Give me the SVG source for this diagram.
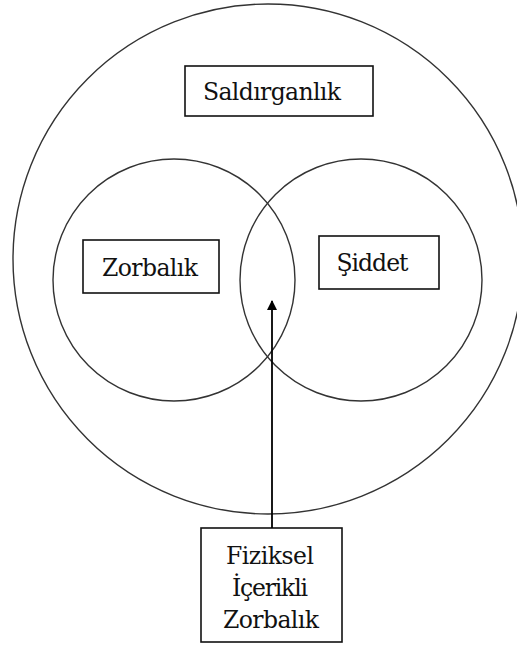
<svg xmlns="http://www.w3.org/2000/svg" width="517" height="646" viewBox="0 0 517 646">
<style>
.c{fill:none;stroke:#333;stroke-width:1.4}
.b{fill:#fff;stroke:#111;stroke-width:1.6}
.t{font-family:'DejaVu Serif','Liberation Serif',serif;font-size:23.5px;fill:#111;text-anchor:middle}
.e{stroke:#000;stroke-width:1.8;fill:none}
</style>
<defs>
<marker id="ah" markerWidth="10" markerHeight="10" refX="9" refY="5" orient="auto" markerUnits="userSpaceOnUse" viewBox="0 0 10 10">
<path d="M0,0 L10,5 L0,10 Z" fill="#000"/>
</marker>
</defs>
<rect width="517" height="646" fill="#fff"/>
<g id="saldirganlik-circle"><circle class="c" cx="268" cy="259" r="255"/></g>
<g id="zorbalik-circle"><circle class="c" cx="174" cy="280" r="121"/></g>
<g id="siddet-circle"><circle class="c" cx="361" cy="280" r="121"/></g>
<g id="saldirganlik"><rect class="b" x="185" y="66" width="188" height="50"/><text class="t" x="272" y="100" textLength="138">Saldırganlık</text></g>
<g id="zorbalik"><rect class="b" x="83" y="240" width="136" height="53"/><text class="t" x="150" y="276" textLength="96">Zorbalık</text></g>
<g id="siddet"><rect class="b" x="319" y="236" width="120" height="53"/><text class="t" x="372.5" y="271" textLength="72">Şiddet</text></g>
<g id="fiziksel"><rect class="b" x="201" y="528" width="141" height="114"/><text class="t" x="270" y="564" textLength="88">Fiziksel</text><text class="t" x="270" y="596" textLength="76">İçerikli</text><text class="t" x="271" y="628" textLength="96">Zorbalık</text></g>
<g id="connectors"><line class="e" x1="272" y1="528" x2="272" y2="301" marker-end="url(#ah)"/></g>
</svg>
